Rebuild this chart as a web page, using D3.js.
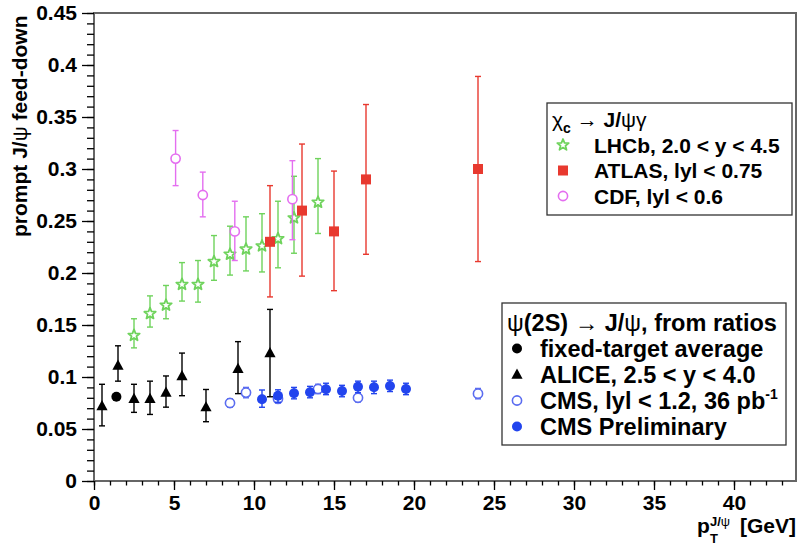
<!DOCTYPE html>
<html>
<head>
<meta charset="utf-8">
<script src="https://cdn.jsdelivr.net/npm/d3@7.9.0/dist/d3.min.js"></script>
<style>
  body { margin: 0; background: #fff; }
  svg text { font-family: "Liberation Sans", Arial, Helvetica, sans-serif; font-weight: bold; fill: #000; }
  .greek { font-weight: normal; }
</style>
</head>
<body>
<svg id="chart" width="799" height="547"></svg>
<script>
// chi_c -> J/psi gamma
const lhcbX  = [2.5, 3.5, 4.5, 5.5, 6.5, 7.5, 8.5, 9.5, 10.5, 11.5, 12.5, 14];
const lhcbY  = [0.140, 0.161, 0.169, 0.189, 0.189, 0.211, 0.218, 0.223, 0.226, 0.233, 0.253, 0.268];
const lhcbHi = [0.156, 0.178, 0.188, 0.210, 0.212, 0.236, 0.245, 0.254, 0.257, 0.269, 0.293, 0.310];
const lhcbLo = [0.128, 0.148, 0.156, 0.173, 0.172, 0.193, 0.198, 0.202, 0.201, 0.205, 0.219, 0.238];

const atlasX  = [11, 13, 15, 17, 24];
const atlasY  = [0.230, 0.260, 0.240, 0.290, 0.300];
const atlasHi = [0.284, 0.324, 0.298, 0.362, 0.389];
const atlasLo = [0.177, 0.197, 0.183, 0.218, 0.211];

const cdfX  = [5.1, 6.8, 8.8, 12.4];
const cdfY  = [0.310, 0.275, 0.240, 0.271];
const cdfHi = [0.337, 0.297, 0.269, 0.308];
const cdfLo = [0.284, 0.254, 0.212, 0.232];

// psi(2S) -> J/psi
const fixedX = [1.4];
const fixedY = [0.081];

const aliceX  = [0.5, 1.5, 2.5, 3.5, 4.5, 5.5, 7, 9, 11];
const aliceY  = [0.072, 0.111, 0.079, 0.079, 0.085, 0.101, 0.071, 0.108, 0.123];
const aliceHi = [0.093, 0.130, 0.093, 0.096, 0.101, 0.123, 0.088, 0.134, 0.165];
const aliceLo = [0.053, 0.096, 0.066, 0.064, 0.071, 0.082, 0.057, 0.084, 0.081];

const cmsX  = [8.5, 9.5, 11.5, 14, 16.5, 24];
const cmsY  = [0.075, 0.085, 0.079, 0.0885, 0.080, 0.084];
const cmsHi = [0.079, 0.090, 0.083, 0.093, 0.084, 0.089];
const cmsLo = [0.071, 0.080, 0.075, 0.084, 0.076, 0.079];

const prelimX  = [10.5, 11.5, 12.5, 13.5, 14.5, 15.5, 16.5, 17.5, 18.5, 19.5];
const prelimY  = [0.0786, 0.082, 0.0843, 0.0853, 0.0882, 0.0865, 0.0907, 0.0901, 0.0913, 0.0885];
const prelimHi = [0.0875, 0.0877, 0.090, 0.091, 0.094, 0.092, 0.096, 0.096, 0.097, 0.094];
const prelimLo = [0.0709, 0.0757, 0.079, 0.080, 0.083, 0.081, 0.085, 0.084, 0.086, 0.083];

const xTicks = [0, 5, 10, 15, 20, 25, 30, 35, 40];
const yTicks = [0, 0.05, 0.1, 0.15, 0.2, 0.25, 0.3, 0.35, 0.4, 0.45];

const green = '#6fd35c', red = '#e8392f', magenta = '#e46ef0', blue = '#2244ee', lightBlue = '#5a6cf0';

const svg = d3.select('#chart');
const x = d3.scaleLinear().domain([0, 43.875]).range([94, 796]);
const y = d3.scaleLinear().domain([0, 0.45]).range([481, 13]);

// frame
svg.append('rect')
  .attr('x', x(0)).attr('y', y(0.45))
  .attr('width', x(43.875) - x(0)).attr('height', y(0) - y(0.45))
  .attr('fill', 'none').attr('stroke', '#666').attr('stroke-width', 2);

// axes: minor then major
const styleAxis = g => {
  g.select('.domain').remove();
  g.selectAll('.tick line').attr('stroke', '#000').attr('stroke-width', 1.3);
  g.selectAll('.tick text').attr('font-size', 21).attr('font-family', null);
};

svg.append('g').attr('transform', `translate(0,${y(0)})`)
  .call(d3.axisBottom(x).tickValues(d3.range(0, 44, 1)).tickSize(4.5).tickSizeOuter(0).tickFormat(''))
  .call(styleAxis);
svg.append('g').attr('transform', `translate(0,${y(0)})`)
  .call(d3.axisBottom(x).tickValues(xTicks).tickSize(9).tickSizeOuter(0).tickPadding(5).tickFormat(d3.format('d')))
  .call(styleAxis);

svg.append('g').attr('transform', `translate(${x(0)},0)`)
  .call(d3.axisLeft(y).tickValues(d3.range(0, 0.4501, 0.01)).tickSize(7).tickSizeOuter(0).tickFormat(''))
  .call(styleAxis);
svg.append('g').attr('transform', `translate(${x(0)},0)`)
  .call(d3.axisLeft(y).tickValues(yTicks).tickSize(12).tickSizeOuter(0).tickPadding(5).tickFormat(d => d3.format('')(+d.toFixed(2))))
  .call(styleAxis);

// axis titles
const yt = svg.append('text').attr('transform', 'translate(27,237) rotate(-90)')
  .attr('text-anchor', 'start').attr('font-size', 21);
yt.append('tspan').text('prompt J/');
yt.append('tspan').attr('class', 'greek').text('ψ');
yt.append('tspan').text(' feed-down');

svg.append('text').attr('x', 697).attr('y', 533).attr('font-size', 21).text('p');
svg.append('text').attr('x', 710).attr('y', 543).attr('font-size', 13).text('T');
const sup = svg.append('text').attr('x', 710).attr('y', 526).attr('font-size', 13);
sup.append('tspan').text('J/');
sup.append('tspan').attr('class', 'greek').text('ψ');
svg.append('text').attr('x', 796).attr('y', 533).attr('text-anchor', 'end').attr('font-size', 21).text('[GeV]');

// markers
const starPath = (ro, ri) => {
  const pts = d3.range(10).map(i => {
    const a = -Math.PI / 2 + i * Math.PI / 5;
    const r = i % 2 ? ri : ro;
    return [r * Math.cos(a), r * Math.sin(a)];
  });
  return 'M' + pts.map(p => p.join(',')).join('L') + 'Z';
};

const drawMarker = (g, type, cx, cy, color) => {
  if (type === 'star') {
    g.append('path').attr('d', starPath(6, 2.6)).attr('transform', `translate(${cx},${cy})`)
      .attr('fill', '#fff').attr('stroke', color).attr('stroke-width', 1.8).attr('stroke-linejoin', 'round');
  } else if (type === 'square') {
    g.append('rect').attr('x', cx - 5).attr('y', cy - 5).attr('width', 10).attr('height', 10).attr('fill', color);
  } else if (type === 'open') {
    g.append('circle').attr('cx', cx).attr('cy', cy).attr('r', 4.6)
      .attr('fill', '#fff').attr('stroke', color).attr('stroke-width', 1.6);
  } else if (type === 'dot') {
    g.append('circle').attr('cx', cx).attr('cy', cy).attr('r', 5).attr('fill', color);
  } else if (type === 'triangle') {
    g.append('path').attr('d', 'M0,-6L5.6,4.2L-5.6,4.2Z').attr('transform', `translate(${cx},${cy})`).attr('fill', color);
  }
};

const series = [
  { xs: aliceX, ys: aliceY, hi: aliceHi, lo: aliceLo, type: 'triangle', color: '#000' },
  { xs: fixedX, ys: fixedY, type: 'dot', color: '#000' },
  { xs: lhcbX, ys: lhcbY, hi: lhcbHi, lo: lhcbLo, type: 'star', color: green },
  { xs: cdfX, ys: cdfY, hi: cdfHi, lo: cdfLo, type: 'open', color: magenta },
  { xs: atlasX, ys: atlasY, hi: atlasHi, lo: atlasLo, type: 'square', color: red },
  { xs: cmsX, ys: cmsY, hi: cmsHi, lo: cmsLo, type: 'open', color: lightBlue },
  { xs: prelimX, ys: prelimY, hi: prelimHi, lo: prelimLo, type: 'dot', color: blue }
];

series.forEach(s => {
  const g = svg.append('g');
  if (s.hi) {
    s.xs.forEach((xv, i) => {
      const px = x(xv), top = y(s.hi[i]), bot = y(s.lo[i]);
      g.append('line').attr('x1', px).attr('x2', px).attr('y1', top).attr('y2', bot)
        .attr('stroke', s.color).attr('stroke-width', 1.4);
      [top, bot].forEach(py => g.append('line').attr('x1', px - 3).attr('x2', px + 3).attr('y1', py).attr('y2', py)
        .attr('stroke', s.color).attr('stroke-width', 1.4));
    });
  }
  s.xs.forEach((xv, i) => drawMarker(g, s.type, x(xv), y(s.ys[i]), s.color));
});

// legend 1
const leg1 = svg.append('g');
leg1.append('rect').attr('x', 547).attr('y', 103).attr('width', 245).attr('height', 112)
  .attr('fill', '#fff').attr('stroke', '#333').attr('stroke-width', 1.3);
const h1 = leg1.append('text').attr('x', 552).attr('y', 127).attr('font-size', 21);
h1.append('tspan').attr('class', 'greek').text('χ');
h1.append('tspan').attr('font-size', 14).attr('dy', 6).text('c');
h1.append('tspan').attr('dy', -6).text(' → J/');
h1.append('tspan').attr('class', 'greek').text('ψγ');
const leg1Rows = [
  { label: 'LHCb, 2.0 < y < 4.5', type: 'star', color: green },
  { label: 'ATLAS, lyl < 0.75', type: 'square', color: red },
  { label: 'CDF, lyl < 0.6', type: 'open', color: magenta }
];
leg1Rows.forEach((r, i) => {
  const by = 152.5 + i * 25.5;
  drawMarker(leg1, r.type, 563, by - 7.5, r.color);
  leg1.append('text').attr('x', 594).attr('y', by).attr('font-size', 21).text(r.label);
});

// legend 2
const leg2 = svg.append('g');
leg2.append('rect').attr('x', 502).attr('y', 303).attr('width', 284).attr('height', 142)
  .attr('fill', '#fff').attr('stroke', '#333').attr('stroke-width', 1.3);
const h2 = leg2.append('text').attr('x', 507).attr('y', 331).attr('font-size', 23.5);
h2.append('tspan').attr('class', 'greek').text('ψ');
h2.append('tspan').text('(2S)  → J/');
h2.append('tspan').attr('class', 'greek').text('ψ');
h2.append('tspan').text(', from ratios');
const leg2Rows = [
  { label: 'fixed-target average', type: 'dot', color: '#000' },
  { label: 'ALICE, 2.5 < y < 4.0', type: 'triangle', color: '#000' },
  { label: 'CMS, lyl < 1.2, 36 pb', sup: '-1', type: 'open', color: lightBlue },
  { label: 'CMS Preliminary', type: 'dot', color: blue }
];
leg2Rows.forEach((r, i) => {
  const by = 357 + i * 26;
  drawMarker(leg2, r.type, 517, by - 8.5, r.color);
  const t = leg2.append('text').attr('x', 540).attr('y', by).attr('font-size', 23.5).text(r.label);
  if (r.sup) t.append('tspan').attr('font-size', 14).attr('dy', -10).text(r.sup);
});
</script>
</body>
</html>
